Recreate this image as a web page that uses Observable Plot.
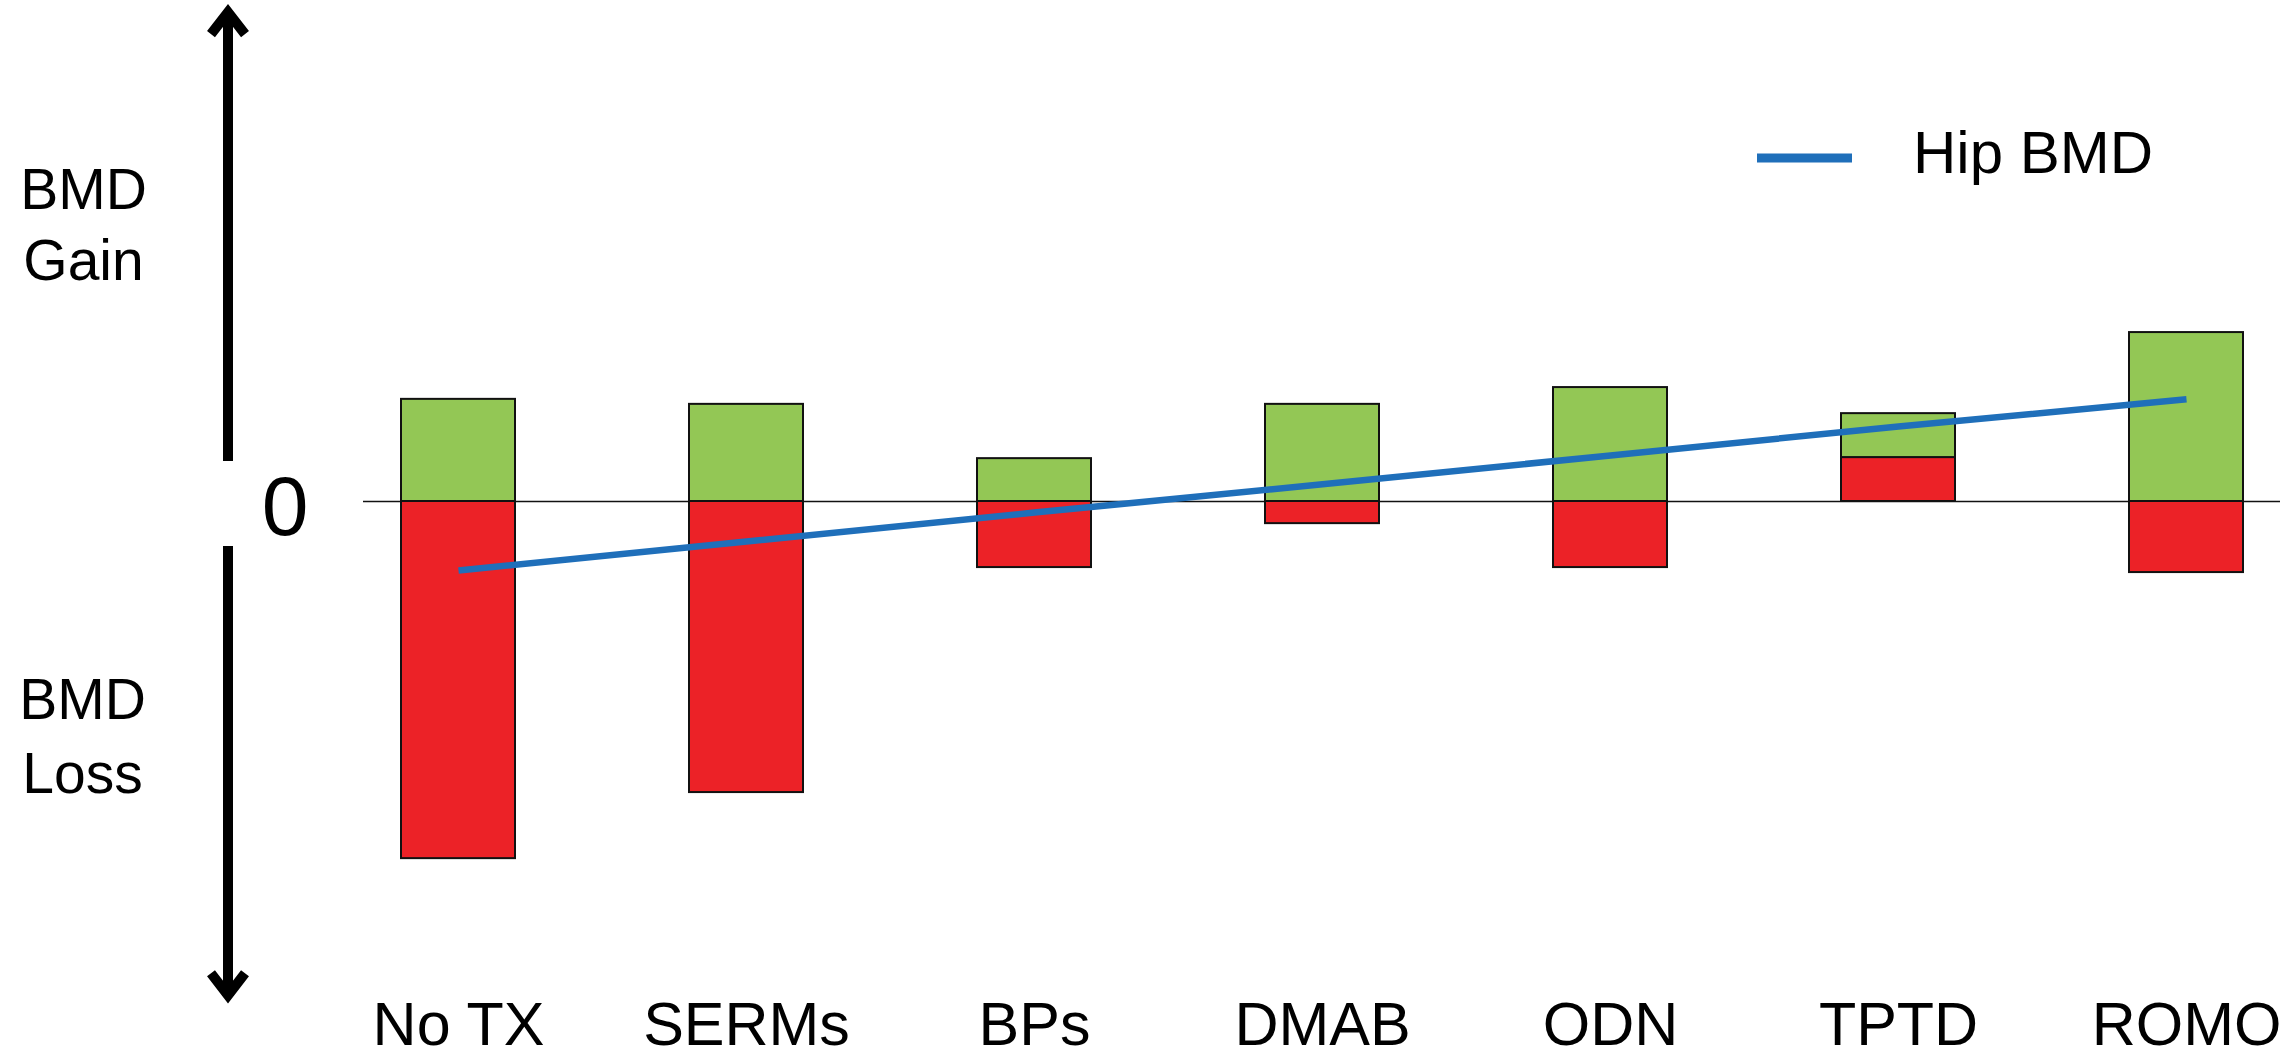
<!DOCTYPE html>
<html>
<head>
<meta charset="utf-8">
<script src="https://cdn.jsdelivr.net/npm/d3@7"></script>
<script src="https://cdn.jsdelivr.net/npm/@observablehq/plot@0.6"></script>
<style>
  html, body { margin: 0; padding: 0; background: #fff; }
  #chart { width: 2292px; height: 1054px; }
</style>
</head>
<body>
<div id="chart"></div>
<script>
// Treatment groups along the bottom
const treatments = ["No TX", "SERMs", "BPs", "DMAB", "ODN", "TPTD", "ROMO"];
// Green component (bone formation / gain), arbitrary units
const gain = [2.86, 2.72, 1.20, 2.72, 3.19, 1.23, 4.73];
// Red component (bone resorption / loss); TPTD sits above zero
const loss = [-10.0, -8.15, -1.85, -0.62, -1.85, 1.23, -1.99];
// Net hip BMD change for each treatment
const hipBMD = [-1.93, -1.12, -0.31, 0.48, 1.29, 2.10, 2.86];
const parts = ["Gain", "Loss"];
const partColors = ["#93c755", "#ec2227"];
const lineColor = "#1f6fba";
const legendLabel = "Hip BMD";

// Long-form table for the stacked bars
const segments = treatments.flatMap((t, i) => [
  {treatment: t, part: "Loss", value: loss[i]},
  {treatment: t, part: "Gain", value: gain[i]}
]);
const hip = treatments.map((t, i) => ({treatment: t, value: hipBMD[i]}));

const W = 2292, H = 1054;
const plot = Plot.plot({
  width: W,
  height: H,
  marginTop: 1,
  marginBottom: 53,
  marginLeft: 363,
  marginRight: 12,
  style: {fontFamily: "'Liberation Sans', Arial, sans-serif", background: "#fff", color: "#000", overflow: "visible"},
  x: {domain: treatments, paddingInner: 0.605, paddingOuter: 0.128, label: null},
  y: {domain: [-14, 14], label: null},
  color: {domain: parts, range: partColors},
  marks: [
    Plot.ruleY([0], {stroke: "#111", strokeWidth: 1.6}),
    Plot.barY(segments, Plot.stackY({
      x: "treatment", y: "value", z: "part", fill: "part",
      order: ["Loss", "Gain"], stroke: "#111", strokeWidth: 2
    })),
    Plot.line(hip, {x: "treatment", y: "value", stroke: lineColor, strokeWidth: 6.5, strokeLinecap: "butt"}),
    Plot.axisX({tickSize: 0, tickPadding: 0, fontSize: 61, fill: "#000"}),
    Plot.axisY({ticks: [0], tickSize: 0, tickPadding: 55, fontSize: 84, dy: 7, fill: "#000", tickFormat: () => "0"}),
    Plot.text(["BMD\nGain"], {text: d => d, frameAnchor: "left", y: 7.84, dx: -280, textAnchor: "middle", fontSize: 57, lineHeight: 1.26, fill: "#000"}),
    Plot.text(["BMD\nLoss"], {text: d => d, frameAnchor: "left", y: -6.45, dx: -281, textAnchor: "middle", fontSize: 57, lineHeight: 1.3, fill: "#000"})
  ]
});

// Gain / loss arrows in the left margin, placed with the y scale
const svg = d3.select(plot);
const yScale = plot.scale("y");
const yp = v => yScale.apply(v);
const arrowX = 228;
const arrows = svg.append("g").attr("stroke", "#000").attr("fill", "none").attr("stroke-width", 10);
function arrow(from, to) {
  const y0 = yp(from), y1 = yp(to);
  const dir = y1 < y0 ? -1 : 1;
  arrows.append("line").attr("x1", arrowX).attr("x2", arrowX).attr("y1", y0).attr("y2", y1 - dir * 8);
  const tipY = y1 - dir * 7.5;
  arrows.append("polyline")
    .attr("stroke-linejoin", "miter")
    .attr("points", `${arrowX - 17},${tipY - dir * 22} ${arrowX},${tipY} ${arrowX + 17},${tipY - dir * 22}`);
}
arrow(1.12, 13.9);
arrow(-1.26, -14.05);

// Legend for the hip BMD line
const legend = svg.append("g");
legend.append("line").attr("x1", 1757).attr("x2", 1852).attr("y1", 158).attr("y2", 158)
  .attr("stroke", lineColor).attr("stroke-width", 9);
legend.append("text").attr("x", 1913).attr("y", 173)
  .attr("text-anchor", "start")
  .attr("font-size", 60).attr("fill", "#000").text(legendLabel);

document.getElementById("chart").append(plot);
</script>
</body>
</html>
